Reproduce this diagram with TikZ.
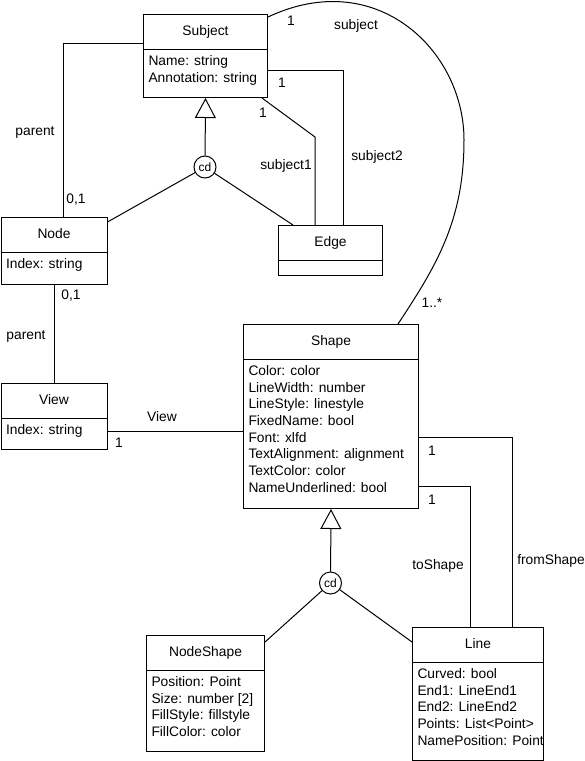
\documentclass[tikz,border=0pt]{standalone}
\usepackage{fontspec}
\setmainfont{Liberation Sans}
\usetikzlibrary{arrows.meta}

\tikzset{
    every node/.style={font=\fontsize{13.8}{16.7}\selectfont, inner sep=0pt},
    pics/umlclass/.style args={#1/#2/#3/#4}{
        code={
            \node[draw, anchor=north west, minimum width=#1pt, minimum height=#2pt] (-box) at (0,0) {};
            \draw ([yshift=-35pt]-box.north west) -- ([yshift=-35pt]-box.north east);
            \node[anchor=base] (-title) at ([yshift=-21pt]-box.north) {#3};
            \node[anchor=north west, align=left] (-attrs) at ([xshift=5pt,yshift=-39.3pt]-box.north west) {\strut#4};
        }
    },
    disjoint/.style={circle, draw, minimum size=22pt, font=\fontsize{12}{12}\selectfont},
    gentip/.style={-{Triangle[open,length=20pt,width=21pt]}}
}

\begin{document}
\begin{tikzpicture}[x=1pt, y=-1pt, line width=1pt]
                      \useasboundingbox (0,0) rectangle (585,761);
                      \pic (subject) at (143,14) {umlclass=124/83/Subject/{Name: string\\Annotation: string}};
                      \pic (node) at (0.5,217) {umlclass=106/67/Node/{Index: string}};
                      \pic (edge) at (278,225) {umlclass=104/50/Edge/{}};
                      \pic (view) at (0.5,383) {umlclass=106/66/View/{Index: string}};
                      \pic (shape) at (243,324) {umlclass=175/184/Shape/{Color: color\\LineWidth: number\\LineStyle: linestyle\\FixedName: bool\\Font: xlfd\\TextAlignment: alignment\\TextColor: color\\NameUnderlined: bool}};
                      \pic (nodeshape) at (146,635) {umlclass=118/116/NodeShape/{Position: Point\\Size: number [2]\\FillStyle: fillstyle\\FillColor: color}};
                      \pic (line) at (412,627) {umlclass=131/133/Line/{Curved: bool\\End1: LineEnd1\\End2: LineEnd2\\Points: List<Point>\\NamePosition: Point}};

                      \node[disjoint] (gen1) at (205,167) {cd};
                      \node[disjoint] (gen2) at (330.5,583) {cd};
                      \draw[gentip] (gen1) -- (subject-box.south);
                      \draw (gen1) -- ([yshift=-5pt]node-box.north east);
                      \draw (gen1) -- ([xshift=15pt]edge-box.north west);
                      \draw[gentip] (gen2) -- (shape-box.south);
                      \draw (gen2) -- ([yshift=-7pt]nodeshape-box.north east);
                      \draw (gen2) -- ([yshift=-15pt]line-box.north west);

                      \coordinate (bend1) at (315,137);
                      \coordinate (arcright) at (464,140);
                      \draw ([yshift=-29pt]subject-box.north west) -| ([xshift=63pt]node-box.north west);
                      \draw ([xshift=-6pt]subject-box.south east) -- (bend1) -- (bend1 |- edge-box.north);
                      \draw ([yshift=-56pt]subject-box.north east) -| ([xshift=65pt]edge-box.north west);
                      \draw ([yshift=-3pt]subject-box.north east) .. controls (376,-34) and (464,50) .. (arcright)
                            .. controls (464,220) and (437,265) .. ([xshift=-21pt]shape-box.north east);
                      \draw (node-box.south) -- (view-box.north);
                      \draw ([yshift=-48pt]view-box.north east) -- ([yshift=-107pt]shape-box.north west);
                      \draw ([yshift=-113pt]shape-box.north east) -| ([xshift=100pt]line-box.north west);
                      \draw ([yshift=-162pt]shape-box.north east) -| ([xshift=58pt]line-box.north west);

                      \node (parenttop) at (35,132) {parent};
                      \node (multparent) at (76,200) {0,1};
                      \node (multsub1) at (263,113) {1};
                      \node (rolesub1) at (286,166) {subject1};
                      \node (multsub2) at (282,83) {1};
                      \node (rolesub2) at (377,157) {subject2};
                      \node (multsubject) at (291,21) {1};
                      \node (rolesubject) at (356,26) {subject};
                      \node (multshapes) at (432,303) {1..*};
                      \node (multview) at (71,296) {0,1};
                      \node (parentview) at (26,336) {parent};
                      \node (roleview) at (162,417) {View};
                      \node (multshape) at (119,443) {1};
                      \node (multfrom) at (432,451) {1};
                      \node (rolefrom) at (551,561) {fromShape};
                      \node (multto) at (432,500) {1};
                      \node (roleto) at (438,566) {toShape};
                  \end{tikzpicture}
\end{document}
